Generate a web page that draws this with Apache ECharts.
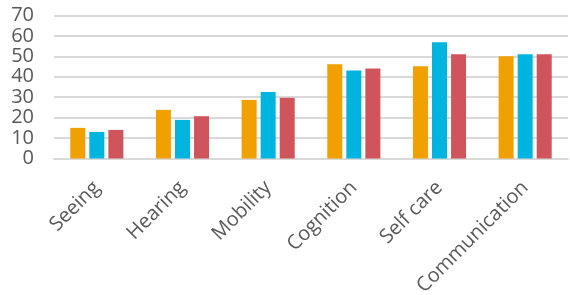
<!DOCTYPE html>
<html>
<head>
<meta charset="utf-8">
<title>Bar chart</title>
<script src="https://cdn.jsdelivr.net/npm/echarts@6/dist/echarts.min.js"></script>
<style>
  html, body { margin: 0; padding: 0; background: #fff; }
  #main { width: 570px; height: 295px; }
</style>
</head>
<body>
<div id="main"></div>
<script>
var categories = ['Seeing', 'Hearing', 'Mobility', 'Cognition', 'Self care', 'Communication'];
var seriesA = [15, 23.8, 28.7, 46.1, 45.1, 50];
var seriesB = [13, 18.9, 32.5, 43.1, 56.9, 51];
var seriesC = [14, 20.7, 29.7, 44.1, 51, 51];
var colors = ['#F0A000', '#00B4E0', '#CF545C'];

var chart = echarts.init(document.getElementById('main'));

function bar(data, i) {
  return {
    type: 'bar',
    data: data,
    barWidth: 15,
    barGap: '27%',
    itemStyle: { color: colors[i] }
  };
}

chart.setOption({
  animation: false,
  // keep the plot fixed; the long rotated label may touch the bottom edge
  grid: { left: 54, right: 2, top: 15.5, bottom: 136.5, outerBoundsMode: 'none' },
  xAxis: {
    type: 'category',
    data: categories,
    axisLine: { lineStyle: { color: '#d9d9d9', width: 2 } },
    axisTick: { show: false },
    axisLabel: {
      rotate: 45,
      interval: 0,
      margin: 26,
      color: '#595959',
      fontSize: 20,
      fontFamily: 'Open Sans'
    }
  },
  yAxis: {
    type: 'value',
    min: 0,
    max: 70,
    interval: 10,
    axisLine: { show: false },
    axisTick: { show: false },
    splitLine: { lineStyle: { color: '#d9d9d9', width: 2 } },
    axisLabel: {
      color: '#595959',
      fontSize: 20,
      fontFamily: 'Open Sans',
      margin: 20
    }
  },
  series: [bar(seriesA, 0), bar(seriesB, 1), bar(seriesC, 2)]
});
</script>
</body>
</html>
